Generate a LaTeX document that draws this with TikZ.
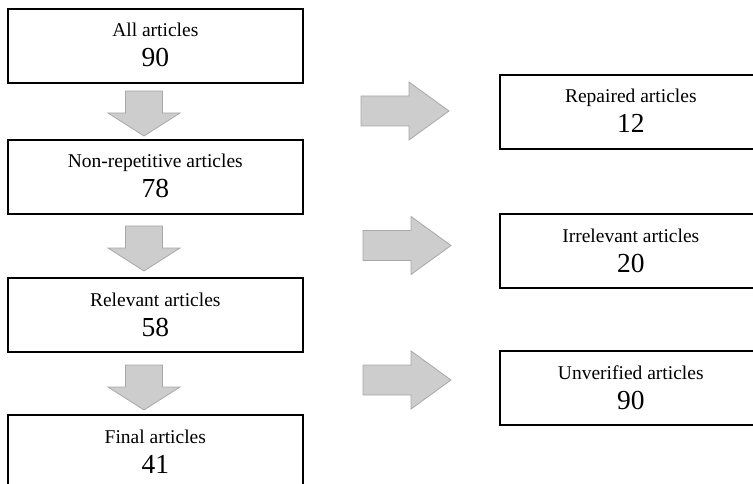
\documentclass[tikz,border=0pt]{standalone}
\usepackage{fontspec}
\setmainfont{Liberation Serif}
\definecolor{arrowfill}{HTML}{CDCDCD}
\definecolor{arrowdraw}{HTML}{A8A8A8}
\begin{document}
\begin{tikzpicture}[x=1pt,y=-1pt,
  box/.style={draw=black, line width=1.6pt, fill=white, minimum width=295pt, minimum height=74pt, anchor=north west, inner sep=0pt},
  rbox/.style={box, minimum width=262pt},
  lab/.style={anchor=base, font=\fontsize{19.5}{20}\selectfont, inner sep=0pt},
  num/.style={anchor=base, font=\fontsize{27.5}{28}\selectfont, inner sep=0pt},
  blk/.style={fill=arrowfill, draw=arrowdraw, line width=0.8pt, line join=miter},
  pics/downarr/.style={code={\draw[blk] (-18.5,0) -- (18.5,0) -- (18.5,22) -- (36,22) -- (0,45) -- (-36,22) -- (-18.5,22) -- cycle;}},
  pics/rightarr/.style={code={\draw[blk] (0,-15) -- (48,-15) -- (48,-29) -- (88,0) -- (48,29) -- (48,15) -- (0,15) -- cycle;}}
]
\useasboundingbox (0,0) rectangle (753,484);

% left column
\node[box] (b1) at (7,8) {};
\node[box] (b2) at (7,139) {};
\node[box] (b3) at (7,277) {};
\node[box] (b4) at (7,414) {};
\node[lab] (t1) at ([yshift=-29pt]b1.north) {All articles};
\node[num] (n1) at ([yshift=-59pt]b1.north) {90};
\node[lab] (t2) at ([yshift=-29pt]b2.north) {Non-repetitive articles};
\node[num] (n2) at ([yshift=-59pt]b2.north) {78};
\node[lab] (t3) at ([yshift=-29pt]b3.north) {Relevant articles};
\node[num] (n3) at ([yshift=-59pt]b3.north) {58};
\node[lab] (t4) at ([yshift=-29pt]b4.north) {Final articles};
\node[num] (n4) at ([yshift=-59pt]b4.north) {41};

% right column
\node[rbox] (r1) at (499,74) {};
\node[rbox] (r2) at (499,213) {};
\node[rbox] (r3) at (499,350) {};
\node[lab] (u1) at ([yshift=-29pt]r1.north) {Repaired articles};
\node[num] (m1) at ([yshift=-59pt]r1.north) {12};
\node[lab] (u2) at ([yshift=-29pt]r2.north) {Irrelevant articles};
\node[num] (m2) at ([yshift=-59pt]r2.north) {20};
\node[lab] (u3) at ([yshift=-29pt]r3.north) {Unverified articles};
\node[num] (m3) at ([yshift=-59pt]r3.north) {90};

% block arrows
\pic (d1) at (144,91) {downarr};
\pic (d2) at (144,226) {downarr};
\pic (d3) at (144,365) {downarr};
\pic (a1) at (361,111) {rightarr};
\pic (a2) at (363,245.5) {rightarr};
\pic (a3) at (363,380) {rightarr};
\end{tikzpicture}
\end{document}
